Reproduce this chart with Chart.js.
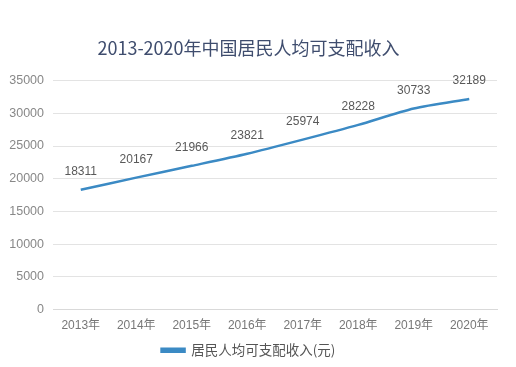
<!DOCTYPE html>
<html><head><meta charset="utf-8">
<script src="https://cdn.jsdelivr.net/npm/chart.js@4/dist/chart.umd.min.js"></script>
<style>html,body{margin:0;padding:0;background:#fff}#wrap{width:516px;height:367px}</style>
</head><body><div id="wrap"><canvas id="c" width="516" height="367"></canvas></div>
<script>
const categories = ['2013年','2014年','2015年','2016年','2017年','2018年','2019年','2020年'];
const incomeValues = [18311,20167,21966,23821,25974,28228,30733,32189];
const seriesName = '居民人均可支配收入(元)';
const titleText = '2013-2020年中国居民人均可支配收入';

const FONT = '"Liberation Sans", Arial, "Noto Sans CJK SC", sans-serif';

const labelPlugin = {
  id: 'dataLabels',
  afterDatasetsDraw(chart) {
    const ctx = chart.ctx;
    const meta = chart.getDatasetMeta(0);
    ctx.save();
    ctx.font = '12px ' + FONT;
    ctx.fillStyle = '#595959';
    ctx.textAlign = 'center';
    ctx.textBaseline = 'middle';
    meta.data.forEach((pt, i) => {
      ctx.fillText(String(chart.data.datasets[0].data[i]), pt.x, pt.y - 18);
    });
    ctx.restore();
  }
};

new Chart(document.getElementById('c'), {
  type: 'line',
  data: {
    labels: categories,
    datasets: [{
      label: seriesName,
      data: incomeValues,
      borderColor: '#3b8ac4',
      backgroundColor: '#3b8ac4',
      borderWidth: 2.5,
      pointRadius: 0,
      tension: 0.25,
      fill: false
    }]
  },
  options: {
    responsive: false,
    animation: false,
    devicePixelRatio: 1,
    layout: { padding: { left: 0, right: 19, top: 0, bottom: 0 } },
    plugins: {
      title: {
        display: true,
        text: titleText,
        color: '#3f4d6e',
        font: { size: 18, family: '"Noto Sans CJK SC", sans-serif', weight: 'normal' },
        padding: { top: 37, bottom: 22 }
      },
      legend: {
        position: 'bottom',
        labels: {
          color: '#555',
          font: { size: 13.5, family: '"Noto Sans CJK SC", ' + FONT },
          boxWidth: 23,
          boxHeight: 3,
          padding: 8
        }
      },
      tooltip: { enabled: false }
    },
    scales: {
      x: {
        offset: true,
        grid: { display: false, drawTicks: false },
        border: { display: true, color: '#d9d9d9' },
        ticks: { color: '#777', font: { size: 12, family: FONT }, padding: 9, maxRotation: 0 },
        afterFit(scale) { scale.height = 26; }
      },
      y: {
        min: 0, max: 35000,
        ticks: { stepSize: 5000, color: '#888', font: { size: 12.5, family: FONT }, padding: 9,
                 callback: (v) => String(v) },
        grid: { color: '#e3e3e3', drawTicks: false },
        border: { display: false },
        afterFit(scale) { scale.width = 53; }
      }
    }
  },
  plugins: [labelPlugin]
});
</script></body></html>
